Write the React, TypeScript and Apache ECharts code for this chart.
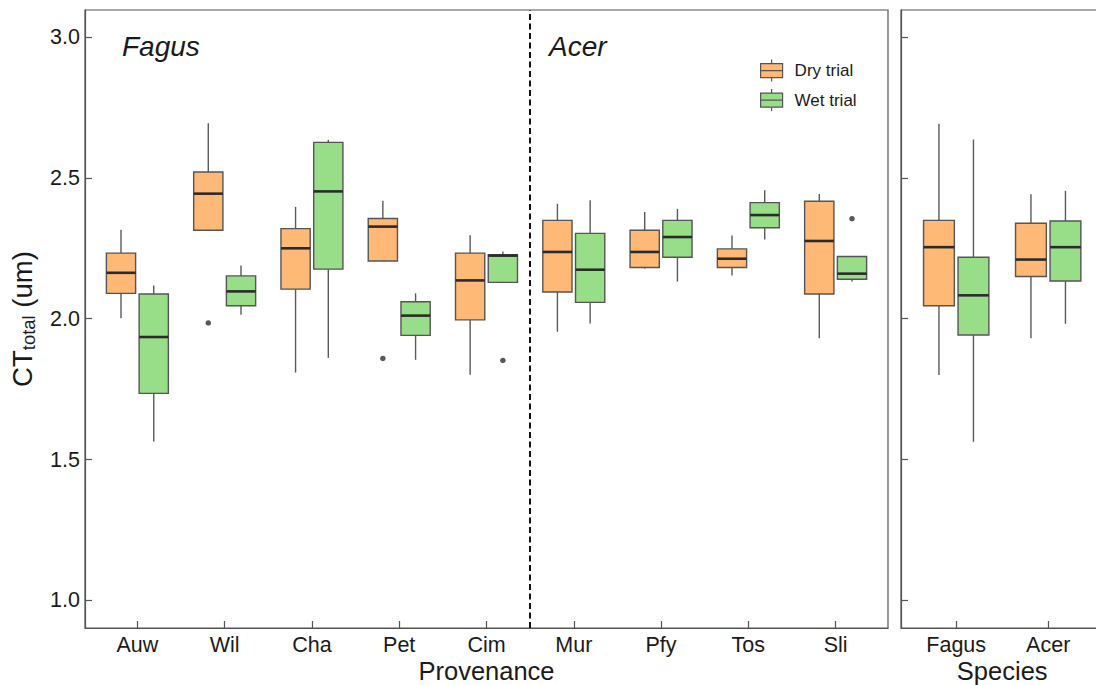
import React, { useEffect, useRef } from 'react';
import * as echarts from 'echarts';

// ---------- data ----------
const PROVENANCES = ['Auw', 'Wil', 'Cha', 'Pet', 'Cim', 'Mur', 'Pfy', 'Tos', 'Sli'];
const SPECIES = ['Fagus', 'Acer'];
const SERIES_NAMES = ['Dry trial', 'Wet trial'];
const PANEL_LABELS = ['Fagus', 'Acer'];
const Y_TICKS = [1.0, 1.5, 2.0, 2.5, 3.0];

// [lower whisker, Q1, median, Q3, upper whisker]
const DRY_PROV = [
  [2.002, 2.09, 2.163, 2.233, 2.316],
  [2.314, 2.314, 2.444, 2.521, 2.694],
  [1.809, 2.105, 2.25, 2.32, 2.397],
  [2.205, 2.205, 2.327, 2.356, 2.419],
  [1.801, 1.996, 2.136, 2.233, 2.296],
  [1.954, 2.095, 2.237, 2.349, 2.408],
  [2.178, 2.182, 2.237, 2.314, 2.379],
  [2.153, 2.182, 2.213, 2.248, 2.295],
  [1.931, 2.088, 2.276, 2.417, 2.443],
];
const WET_PROV = [
  [1.564, 1.735, 1.935, 2.088, 2.118],
  [2.014, 2.046, 2.097, 2.152, 2.189],
  [1.861, 2.176, 2.452, 2.626, 2.635],
  [1.854, 1.941, 2.011, 2.06, 2.09],
  [2.129, 2.129, 2.224, 2.227, 2.239],
  [1.983, 2.058, 2.174, 2.303, 2.421],
  [2.132, 2.218, 2.29, 2.349, 2.39],
  [2.281, 2.323, 2.368, 2.412, 2.456],
  [2.132, 2.14, 2.16, 2.221, 2.221],
];
const DRY_SPECIES = [
  [1.8, 2.046, 2.254, 2.349, 2.692],
  [1.931, 2.15, 2.21, 2.339, 2.442],
];
const WET_SPECIES = [
  [1.563, 1.942, 2.083, 2.218, 2.636],
  [1.982, 2.134, 2.254, 2.347, 2.454],
];
// [category, value]
const DRY_PROV_OUTLIERS: [string, number][] = [['Wil', 1.985], ['Pet', 1.859]];
const WET_PROV_OUTLIERS: [string, number][] = [['Cim', 1.852], ['Sli', 2.355]];

// ---------- styles ----------
const FONT = '"Liberation Sans", Arial, Helvetica, sans-serif';
const ORANGE = '#FEB977';
const GREEN = '#98DE88';
const BORDER = '#555555';
const WHISKER = '#5a5a5a';
const MEDIAN = '#2b2b2b';
const AXIS = '#555555';
const TEXT = '#1a1a1a';
const BOX_W = 0.335;
const DODGE = 0.1875;
const LEGEND_ICON = 'path://M0,4L22,4L22,18L0,18Z M0,11L22,11 M11,0L11,4 M11,18L11,22';

const makeRender = (offset: number, fill: string) => (_params: any, api: any) => {
  const x = api.value(0) + offset;
  const lo = api.value(1);
  const q1 = api.value(2);
  const med = api.value(3);
  const q3 = api.value(4);
  const hi = api.value(5);
  const h = BOX_W / 2;
  const tl = api.coord([x - h, q3]);
  const br = api.coord([x + h, q1]);
  const mL = api.coord([x - h, med]);
  const mR = api.coord([x + h, med]);
  const top = api.coord([x, hi]);
  const bot = api.coord([x, lo]);
  const cx = top[0];
  return {
    type: 'group',
    children: [
      { type: 'line', shape: { x1: cx, y1: top[1], x2: cx, y2: tl[1] }, style: { stroke: WHISKER, lineWidth: 1.4 } },
      { type: 'line', shape: { x1: cx, y1: br[1], x2: cx, y2: bot[1] }, style: { stroke: WHISKER, lineWidth: 1.4 } },
      {
        type: 'rect',
        shape: { x: tl[0], y: tl[1], width: br[0] - tl[0], height: br[1] - tl[1] },
        style: { fill, stroke: BORDER, lineWidth: 1.4 },
      },
      { type: 'line', shape: { x1: mL[0], y1: mL[1], x2: mR[0], y2: mR[1] }, style: { stroke: MEDIAN, lineWidth: 2.6 } },
    ],
  };
};

const boxSeries = (name: string, idx: number, rows: number[][], offset: number, color: string) => ({
  name,
  type: 'custom',
  xAxisIndex: idx,
  yAxisIndex: idx,
  renderItem: makeRender(offset, color),
  itemStyle: { color, borderColor: BORDER, borderWidth: 1.2 },
  encode: { x: 0, y: [1, 2, 3, 4, 5] },
  data: rows.map((r, i) => [i + 1, ...r]),
  z: 3,
});

const xAxisFor = (idx: number, cats: string[], title: string) => ({
  gridIndex: idx,
  type: 'value',
  min: 0.4,
  max: cats.length + 0.6,
  name: title,
  nameLocation: 'middle',
  nameGap: 29.5,
  nameMoveOverlap: false,
  nameTextStyle: { fontSize: 25.5, lineHeight: 26, color: TEXT, fontFamily: FONT },
  axisLine: { show: true, onZero: false, lineStyle: { color: AXIS, width: 1.2 } },
  axisTick: {
    show: true,
    inside: true,
    length: 7,
    customValues: cats.map((_, i) => i + 1),
    lineStyle: { color: AXIS, width: 1.2 },
  },
  axisLabel: {
    show: true,
    customValues: cats.map((_, i) => i + 1),
    formatter: (v: number) => cats[Math.round(v) - 1] ?? '',
    fontSize: 21.5,
    lineHeight: 22,
    color: TEXT,
    fontFamily: FONT,
    margin: 5.5,
  },
  splitLine: { show: false },
});

const yAxisFor = (idx: number, withLabels: boolean) => ({
  gridIndex: idx,
  type: 'value',
  min: 0.902,
  max: 3.096,
  axisLine: { show: true, lineStyle: { color: AXIS, width: 1.2 } },
  axisTick: { show: true, inside: true, length: 7, customValues: Y_TICKS, lineStyle: { color: AXIS, width: 1.2 } },
  axisLabel: {
    show: withLabels,
    customValues: Y_TICKS,
    formatter: (v: number) => v.toFixed(1),
    fontSize: 21.5,
    color: TEXT,
    fontFamily: FONT,
    margin: 5,
  },
  splitLine: { show: false },
  ...(withLabels
    ? {
        name: '{a|CT}{b|total}{a| (um)}',
        nameLocation: 'middle',
        nameRotate: 90,
        nameGap: 47,
        nameMoveOverlap: false,
        nameTextStyle: {
          rich: {
            a: { fontSize: 27.5, lineHeight: 32, color: TEXT, fontFamily: FONT },
            b: { fontSize: 18.5, lineHeight: 13, verticalAlign: 'bottom', color: TEXT, fontFamily: FONT },
          },
        },
      }
    : {}),
});

export default function App() {
  const ref = useRef<HTMLDivElement>(null);

  useEffect(() => {
    if (!ref.current) return;
    const chart = echarts.init(ref.current, null, { renderer: 'svg' });
    const catIndex = (c: string) => PROVENANCES.indexOf(c) + 1;

    const option: any = {
      animation: false,
      backgroundColor: '#ffffff',
      textStyle: { fontFamily: FONT },
      grid: [
        {
          left: 85, top: 10, width: 803, height: 618, show: true, borderColor: AXIS, borderWidth: 1.2,
          backgroundColor: 'transparent', containLabel: false, outerBoundsMode: 'none',
        },
        {
          left: 901, top: 10, width: 202.4, height: 618, show: true, borderColor: AXIS, borderWidth: 1.2,
          backgroundColor: 'transparent', containLabel: false, outerBoundsMode: 'none',
        },
      ],
      xAxis: [xAxisFor(0, PROVENANCES, 'Provenance'), xAxisFor(1, SPECIES, 'Species')],
      yAxis: [yAxisFor(0, true), yAxisFor(1, false)],
      legend: {
        orient: 'vertical',
        left: 760,
        top: 59,
        padding: 0,
        itemWidth: 22,
        itemHeight: 22,
        itemGap: 6.3,
        selectedMode: false,
        data: SERIES_NAMES.map((n) => ({ name: n, icon: LEGEND_ICON })),
        itemStyle: { borderColor: BORDER, borderWidth: 1.2 },
        formatter: '{t|{name}}',
        textStyle: {
          fontSize: 17,
          color: TEXT,
          fontFamily: FONT,
          rich: { t: { fontSize: 17, color: TEXT, fontFamily: FONT, padding: [0, 0, 0, 7] } },
        },
      },
      graphic: [
        {
          type: 'text',
          x: 122,
          y: 46,
          style: { text: PANEL_LABELS[0], font: `italic 28px ${FONT}`, fill: TEXT, verticalAlign: 'middle' },
        },
        {
          type: 'text',
          x: 549,
          y: 46,
          style: { text: PANEL_LABELS[1], font: `italic 28px ${FONT}`, fill: TEXT, verticalAlign: 'middle' },
        },
      ],
      series: [
        boxSeries(SERIES_NAMES[0], 0, DRY_PROV, -DODGE, ORANGE),
        boxSeries(SERIES_NAMES[1], 0, WET_PROV, DODGE, GREEN),
        boxSeries(SERIES_NAMES[0], 1, DRY_SPECIES, -DODGE, ORANGE),
        boxSeries(SERIES_NAMES[1], 1, WET_SPECIES, DODGE, GREEN),
        {
          name: 'Dry outliers',
          type: 'scatter',
          xAxisIndex: 0,
          yAxisIndex: 0,
          symbolSize: 5.5,
          itemStyle: { color: '#2e2e2e' },
          data: DRY_PROV_OUTLIERS.map(([c, v]) => [catIndex(c) - DODGE, v]),
          z: 4,
          markLine: {
            silent: true,
            symbol: 'none',
            label: { show: false },
            lineStyle: { type: [6, 3.5], color: '#111111', width: 2 },
            data: [{ xAxis: (PROVENANCES.indexOf('Cim') + PROVENANCES.indexOf('Mur')) / 2 + 1 }],
          },
        },
        {
          name: 'Wet outliers',
          type: 'scatter',
          xAxisIndex: 0,
          yAxisIndex: 0,
          symbolSize: 5.5,
          itemStyle: { color: '#2e2e2e' },
          data: WET_PROV_OUTLIERS.map(([c, v]) => [catIndex(c) + DODGE, v]),
          z: 4,
        },
      ],
    };

    chart.setOption(option);
    return () => chart.dispose();
  }, []);

  return (
    <div
      ref={ref}
      style={{ position: 'absolute', left: 0, top: 0, width: 1096, height: 685, background: '#fff' }}
    />
  );
}
